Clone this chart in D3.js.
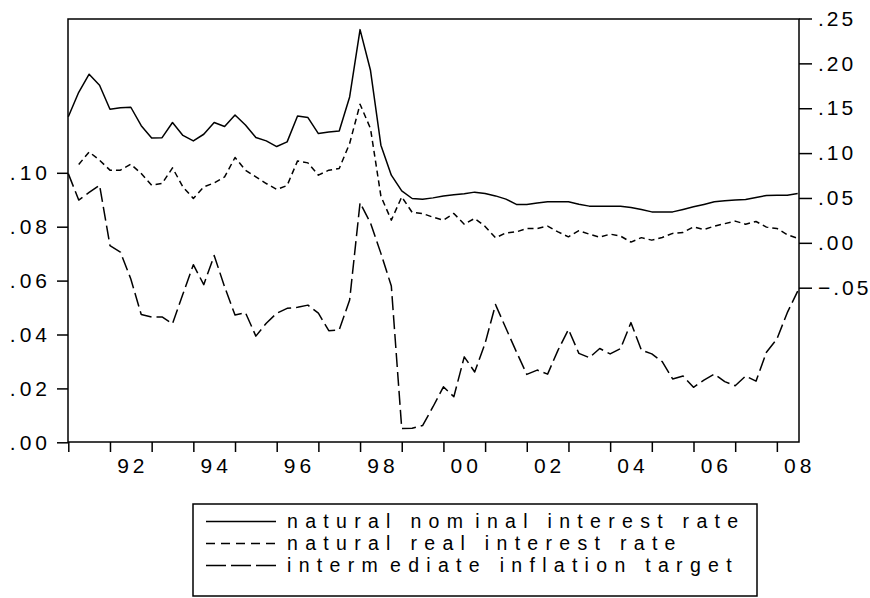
<!DOCTYPE html>
<html><head><meta charset="utf-8">
<script src="https://cdn.jsdelivr.net/npm/d3@7/dist/d3.min.js"></script>
<style>body{margin:0;background:#fff}svg{display:block}</style>
</head><body><svg id="c" width="870" height="598"></svg>
<script>
// Quarterly observations 1991Q1 .. 2008Q3
const startYear = 1991;
const nominal = [0.1405,0.1678,0.1879,0.1756,0.1489,0.1506,0.1511,0.1305,0.1169,0.1172,
0.1341,0.1197,0.1136,0.1210,0.1341,0.1296,0.1425,0.1314,0.1174,0.1136,
0.1073,0.1125,0.1414,0.1396,0.1218,0.1236,0.1247,0.1626,0.2376,0.1923,
0.1088,0.0754,0.0579,0.0494,0.0487,0.0501,0.0523,0.0535,0.0546,0.0565,
0.0550,0.0523,0.0487,0.0428,0.0428,0.0445,0.0457,0.0457,0.0457,0.0431,
0.0409,0.0409,0.0409,0.0409,0.0394,0.0372,0.0345,0.0345,0.0345,0.0372,
0.0401,0.0428,0.0457,0.0468,0.0476,0.0483,0.0506,0.0528,0.0531,0.0531,
0.0550];
const real = [null,0.0873,0.1013,0.0921,0.0810,0.0810,0.0876,0.0773,0.0643,0.0661,
0.0835,0.0624,0.0494,0.0624,0.0668,0.0735,0.0951,0.0810,0.0735,0.0661,
0.0595,0.0639,0.0913,0.0891,0.0754,0.0810,0.0828,0.1107,0.1545,0.1274,
0.0520,0.0253,0.0512,0.0339,0.0327,0.0286,0.0253,0.0327,0.0208,0.0272,
0.0183,0.0056,0.0111,0.0122,0.0160,0.0160,0.0186,0.0122,0.0067,0.0136,
0.0097,0.0063,0.0097,0.0075,0.0008,0.0058,0.0030,0.0060,0.0105,0.0116,
0.0178,0.0149,0.0186,0.0214,0.0242,0.0208,0.0238,0.0175,0.0160,0.0091,
0.0049];
const target = [0.0997,0.0899,0.0927,0.0954,0.0730,0.0706,0.0606,0.0474,0.0465,0.0465,
0.0440,0.0550,0.0659,0.0585,0.0693,0.0577,0.0472,0.0481,0.0394,0.0442,
0.0479,0.0497,0.0501,0.0509,0.0479,0.0414,0.0417,0.0528,0.0889,0.0814,
0.0701,0.0580,0.0051,0.0052,0.0062,0.0132,0.0206,0.0169,0.0317,0.0261,
0.0367,0.0511,0.0423,0.0336,0.0252,0.0268,0.0253,0.0342,0.0419,0.0330,
0.0314,0.0348,0.0328,0.0348,0.0444,0.0342,0.0328,0.0299,0.0235,0.0246,
0.0204,0.0231,0.0253,0.0225,0.0210,0.0246,0.0227,0.0334,0.0383,0.0481,
0.0561];
const leftTicks = [0.00,0.02,0.04,0.06,0.08,0.10];
const rightTicks = [-0.05,0.00,0.05,0.10,0.15,0.20,0.25];
const yearTicks = d3.range(1991, 2009);
const yearLabels = [1992,1994,1996,1998,2000,2002,2004,2006,2008];
const legendLabels = ["natural nominal interest rate","natural real interest rate","intermediate inflation target"];

const svg = d3.select("#c");
const L = 68, R = 799, T = 19, B = 442;
const FONT = "'Liberation Sans', Arial, sans-serif";
const LS = 4; // letter spacing of tick labels

const x = d3.scaleLinear().domain([1991, 2008.5]).range([68.3, 797.7]);
const yL = d3.scaleLinear().domain([0, 0.10]).range([442.3, 172.8]);
const yR = d3.scaleLinear().domain([-0.05, 0.25]).range([287.7, 18.5]);
const tOf = i => startYear + i / 4;
const fmt = v => d3.format(".2f")(v).replace("0.", ".");

// lines
function drawLine(data, scale, dash) {
  const line = d3.line().defined(d => d != null).x((d, i) => x(tOf(i))).y(d => scale(d));
  svg.append("path").attr("d", line(data)).attr("fill", "none").attr("stroke", "#000")
    .attr("stroke-width", 1.5).attr("stroke-linejoin", "round")
    .attr("stroke-dasharray", dash);
}
drawLine(nominal, yR, null);
drawLine(real, yR, "6,4");
drawLine(target, yL, "14,5");

// frame
svg.append("rect").attr("x", L).attr("y", T).attr("width", R - L).attr("height", B - T)
  .attr("fill", "none").attr("stroke", "#000").attr("stroke-width", 1.5);

// left axis
const gl = svg.append("g").attr("transform", `translate(${L},0)`)
  .call(d3.axisLeft(yL).tickValues(leftTicks).tickSize(11).tickPadding(10 - LS).tickFormat(fmt));
// right axis
const gr = svg.append("g").attr("transform", `translate(${R},0)`)
  .call(d3.axisRight(yR).tickValues(rightTicks).tickSize(13).tickPadding(6).tickFormat(fmt));
// bottom axis ticks
const gb = svg.append("g").attr("transform", `translate(0,${B})`)
  .call(d3.axisBottom(x).tickValues(yearTicks).tickSize(10).tickFormat(""));
gb.append("g").selectAll("text").data(yearLabels).join("text")
  .attr("x", d => x(d + 0.5) + LS / 2).attr("y", 31).attr("text-anchor", "middle")
  .text(d => String(d).slice(2));
[gl, gr, gb].forEach(g => {
  g.select(".domain").remove();
  g.selectAll("line").attr("stroke", "#000").attr("stroke-width", 1.5);
  g.selectAll("text").attr("font-family", FONT).attr("font-size", 21)
    .attr("fill", "#000").style("letter-spacing", LS + "px");
});
gr.selectAll("text").style("letter-spacing", "3px");

// legend
const lg = svg.append("g");
lg.append("rect").attr("x", 193).attr("y", 504).attr("width", 564).attr("height", 92)
  .attr("fill", "#fff").attr("stroke", "#000").attr("stroke-width", 1.5);
const legDash = [null, "9,6", "20,5"];
legendLabels.forEach((lab, k) => {
  const yy = 521.5 + k * 22;
  lg.append("line").attr("x1", 206).attr("x2", 276).attr("y1", yy).attr("y2", yy)
    .attr("stroke", "#000").attr("stroke-width", 1.5).attr("stroke-dasharray", legDash[k]);
  const t = lg.append("text").attr("x", 287).attr("y", yy + 6.5).attr("font-family", FONT)
    .attr("font-size", 19.5).style("letter-spacing", "7.3px");
  // small extra gap after each "m", as in the original rendering
  lab.split(/(?<=m)/).forEach((part, j) => {
    t.append("tspan").attr("dx", j ? 5 : 0).text(part);
  });
});
</script></body></html>
